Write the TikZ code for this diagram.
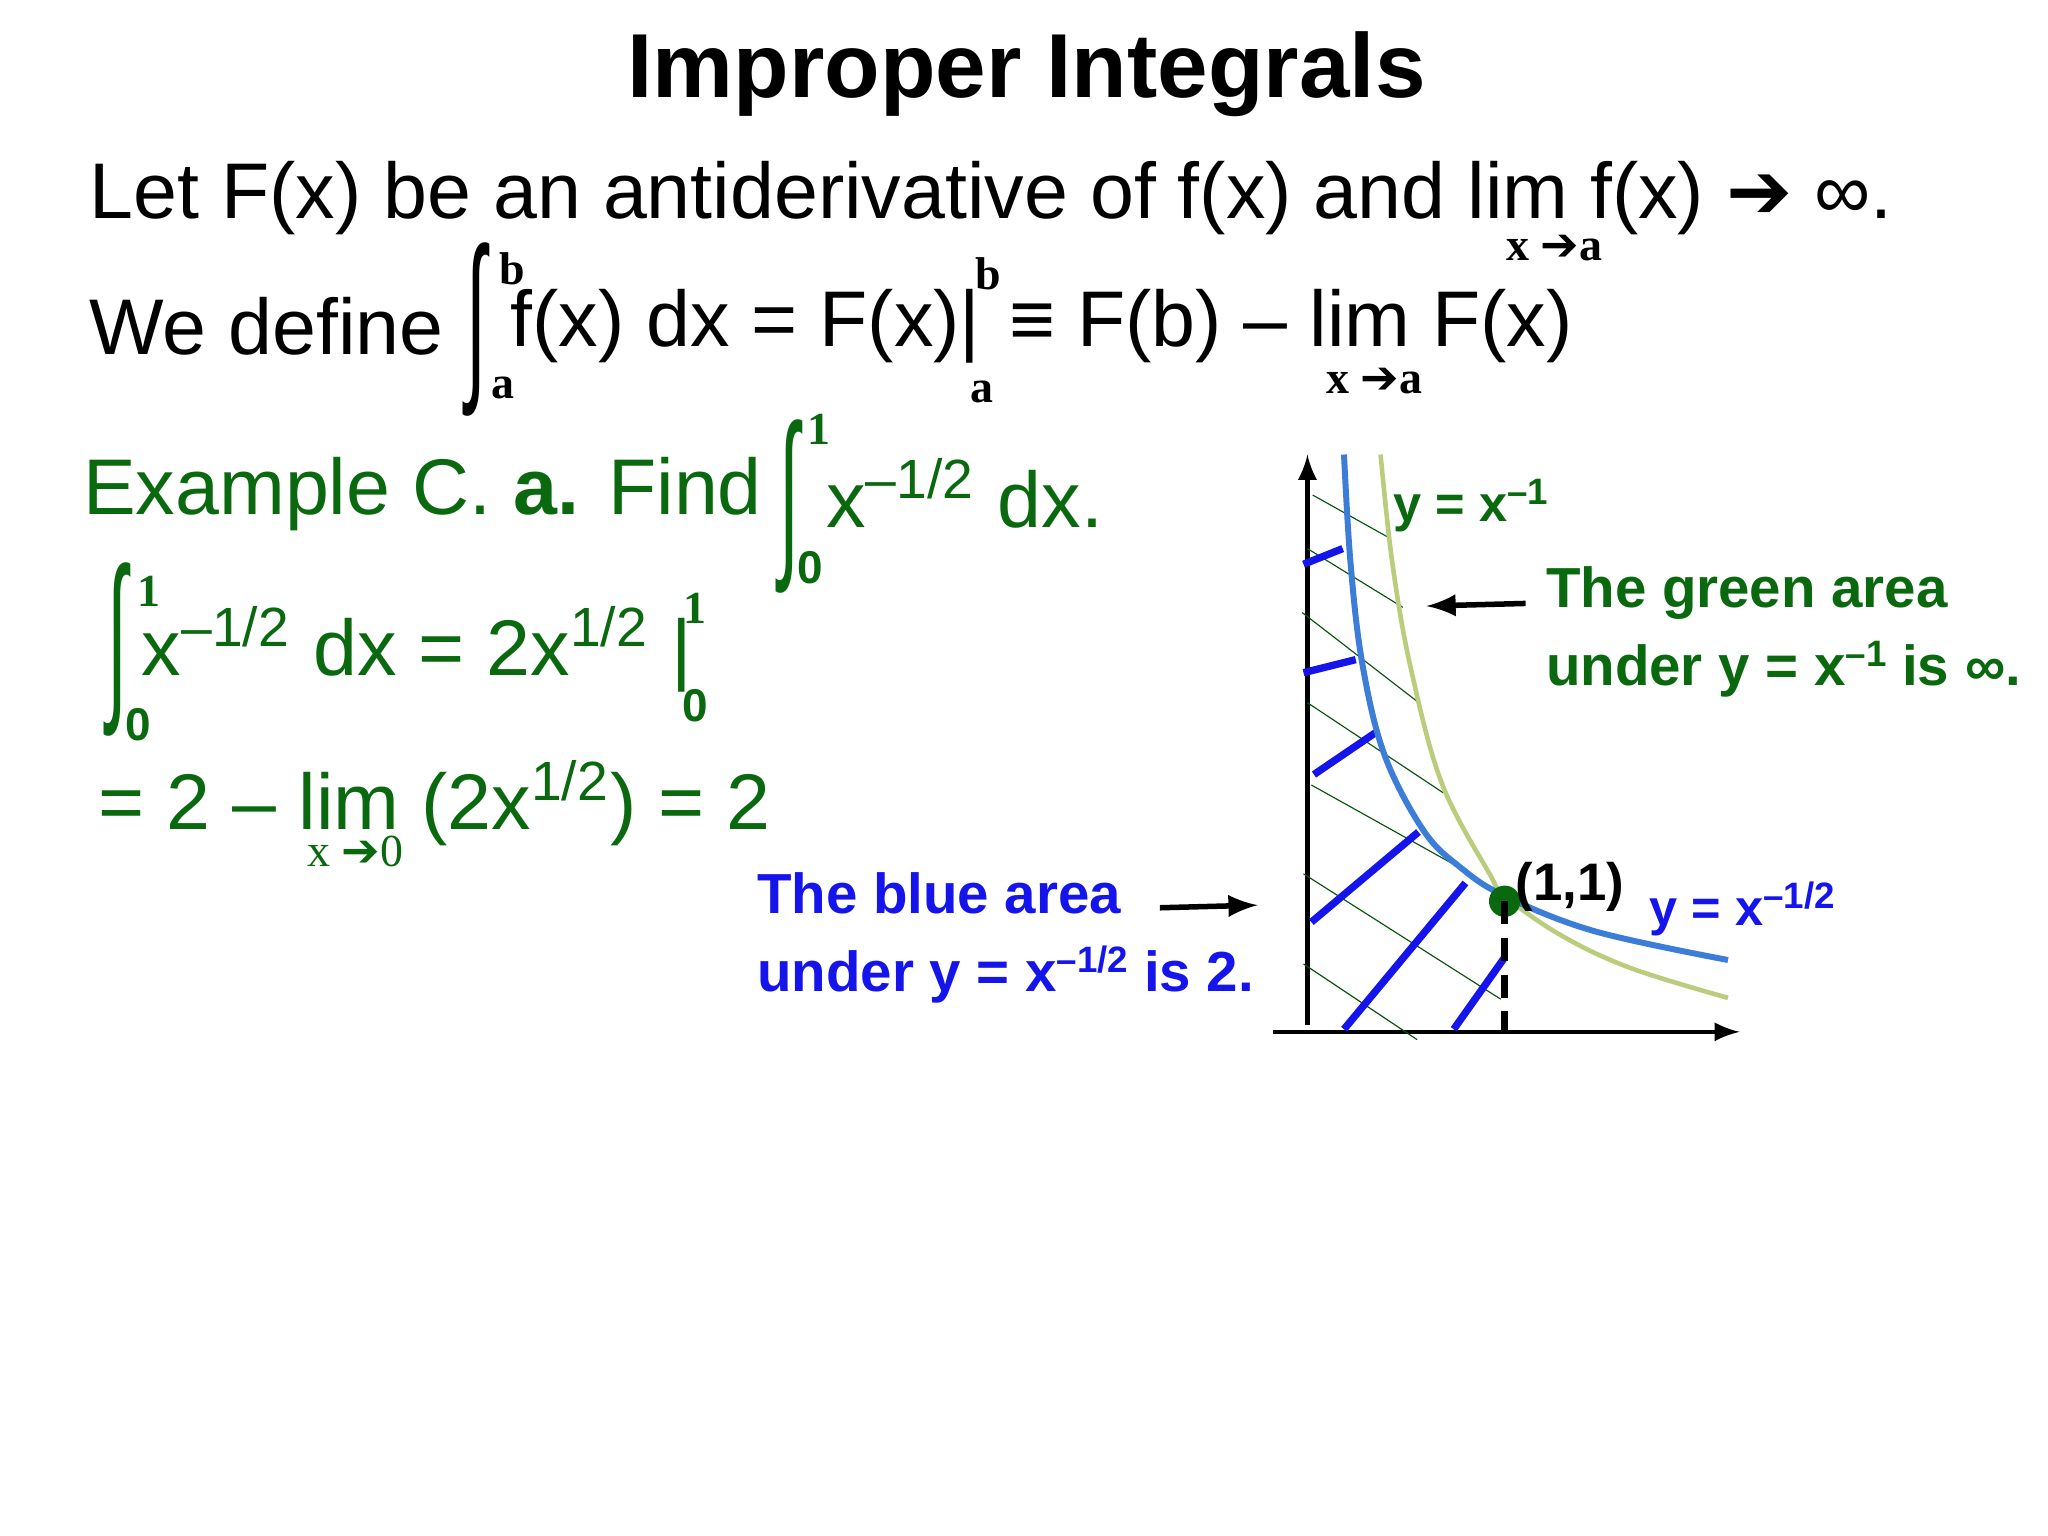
\documentclass[tikz,border=0pt]{standalone}
\usepackage{fontspec}
\setmainfont{Liberation Sans}
\newfontfamily\serifb{Liberation Serif}
\newfontfamily\dejavu{DejaVu Sans}
\usepackage{graphicx}
\definecolor{dkgreen}{RGB}{10,105,15}
\definecolor{myblue}{RGB}{20,20,235}
\definecolor{curveblue}{RGB}{60,125,215}
\definecolor{curvegreen}{RGB}{185,205,125}
\newcommand{\bigint}{\scalebox{0.75}[1.9]{∫}}
\newcommand{\barr}{{\dejavu\bfseries ➔}}
\newcommand{\sups}[1]{\raisebox{0.65ex}{\fontsize{8}{9}\selectfont #1}}
\begin{document}
\begin{tikzpicture}[x=0.1mm,y=-0.1mm,
  body/.style={anchor=west,inner sep=0,font=\fontsize{17.2}{20}\selectfont},
  sub/.style={inner sep=0,font=\serifb\bfseries\fontsize{10}{12}\selectfont},
  subs/.style={inner sep=0,font=\bfseries\fontsize{10}{12}\selectfont},
  lab/.style={anchor=west,inner sep=0,font=\bfseries\fontsize{12.3}{17}\selectfont,align=left},
  intg/.style={inner sep=0,font=\fontsize{21}{22}\selectfont},
  thin/.style={dkgreen!80!black,line width=0.25pt},
  thick/.style={myblue,line width=1.6pt},
  ar/.style={-latex,line width=1.2pt}]
\fill[white] (0,0) rectangle (1568,1176);
\useasboundingbox (0,0) rectangle (1568,1176);
% title
\node[inner sep=0,font=\bfseries\fontsize{19.8}{24}\selectfont] (title) at (786,57) {Improper Integrals};
% line 1
\node[body] (l1) at (68,152) {Let F(x) be an antiderivative of f(x) and lim f(x) \barr{} ∞.};
\node[sub] (l1s) at (1190,190) {x \barr a};
% line 2
\node[body] (l2a) at (68,250) {We define};
\node[intg] (i1) at (365,252) {\bigint};
\node[sub] (i1b) at (392,206) {b};
\node[sub] (i1a) at (385,297) {a};
\node[body] (l2b) at (390,250) {f(x) dx = F(x)|};
\node[sub] (bb) at (757,210) {b};
\node[sub] (ba) at (752,300) {a};
\node[body] (l2c) at (772,250) {≡ F(b) – lim F(x)};
\node[sub] (l2s) at (1052,292) {x \barr a};
% example
\node[body,text=dkgreen] (ex) at (63,378) {Example C. \textbf{a.} Find};
\node[intg,text=dkgreen] (i2) at (604,388) {\bigint};
\node[sub,text=dkgreen] (i2t) at (627,329) {1};
\node[subs,text=dkgreen] (i2b) at (620,435) {0};
\node[body,text=dkgreen] (ex2) at (632,378) {x\textsuperscript{–1/2} dx.};
\node[intg,text=dkgreen] (i3) at (90,497) {\bigint};
\node[sub,text=dkgreen] (i3t) at (114,453) {1};
\node[subs,text=dkgreen] (i3b) at (106,555) {0};
\node[body,text=dkgreen] (l4) at (108,497) {x\textsuperscript{–1/2} dx = 2x\textsuperscript{1/2} |};
\node[sub,text=dkgreen] (l4t) at (532,466) {1};
\node[subs,text=dkgreen] (l4b) at (532,540) {0};
\node[body,text=dkgreen] (l5) at (75,615) {= 2 – lim (2x\textsuperscript{1/2}) = 2};
\node[inner sep=0,font=\serifb\fontsize{10}{12}\selectfont,text=dkgreen] (l5s) at (272,652) {x {\dejavu ➔}0};
% graph
\coordinate (O) at (1001,790);
\coordinate (ytop) at (1001,348);
\coordinate (xl) at (975,790);
\coordinate (xr) at (1332,790);
\coordinate (ybot) at (1001,785);
\draw[line width=0.9pt,-latex] (ybot) -- (ytop);
\draw[line width=0.9pt,-latex] (xl) -- (xr);
% thin hatch
\draw[thin] (1005,379)--(1064,412) (1001,420)--(1074,465) (997,469)--(1085,537)
 (1001,538)--(1105,607) (1004,601)--(1117,664) (998,669)--(1149,765) (998,738)--(1085,796);
% thick hatch
\draw[thick] (998,432)--(1028,420) (998,515)--(1038,505) (1006,593)--(1053,561)
 (1004,706)--(1086,637) (1029,788)--(1122,676) (1113,788)--(1152,733);
% curves
\draw[curvegreen,line width=1pt] plot[smooth,tension=0.6] coordinates{(1057,348)(1066,431)(1080,511)(1104,600)(1141,670)(1152,686)(1195,716)(1248,741)(1323,764)};
\draw[curveblue,line width=1.3pt] plot[smooth,tension=0.6] coordinates{(1029,348)(1034,431)(1043,508)(1060,578)(1090,636)(1118,664)(1152,686)(1221,713)(1323,735)};
\coordinate (foot) at (1152,790);
\node[circle,fill=dkgreen,inner sep=0,minimum size=2.4mm] (pt) at (1152,690) {};
\draw[line width=1.6pt,dash pattern=on 5pt off 3pt] (pt.center) -- (foot);
\node[inner sep=0,font=\bfseries\fontsize{11.5}{14}\selectfont] (p11) at (1202,679) {(1,1)};
\node[inner sep=0,font=\bfseries\fontsize{11}{14}\selectfont,text=dkgreen] (gl) at (1126,387) {y = x\sups{–1}};
\node[inner sep=0,font=\bfseries\fontsize{11}{14}\selectfont,text=myblue] (bl) at (1334,696) {y = x\sups{–1/2}};
\node[lab,text=dkgreen] (gt) at (1183,484) {The green area\\under y = x\sups{–1} is ∞.};
\node[lab,text=myblue] (bt) at (579,718) {The blue area\\under y = x\sups{–1/2} is 2.};
\coordinate (ga) at (1092,464);
\coordinate (ba2) at (963,693);
\draw[ar] (1168,462) -- (ga);
\draw[ar] (888,695) -- (ba2);
\end{tikzpicture}
\end{document}
